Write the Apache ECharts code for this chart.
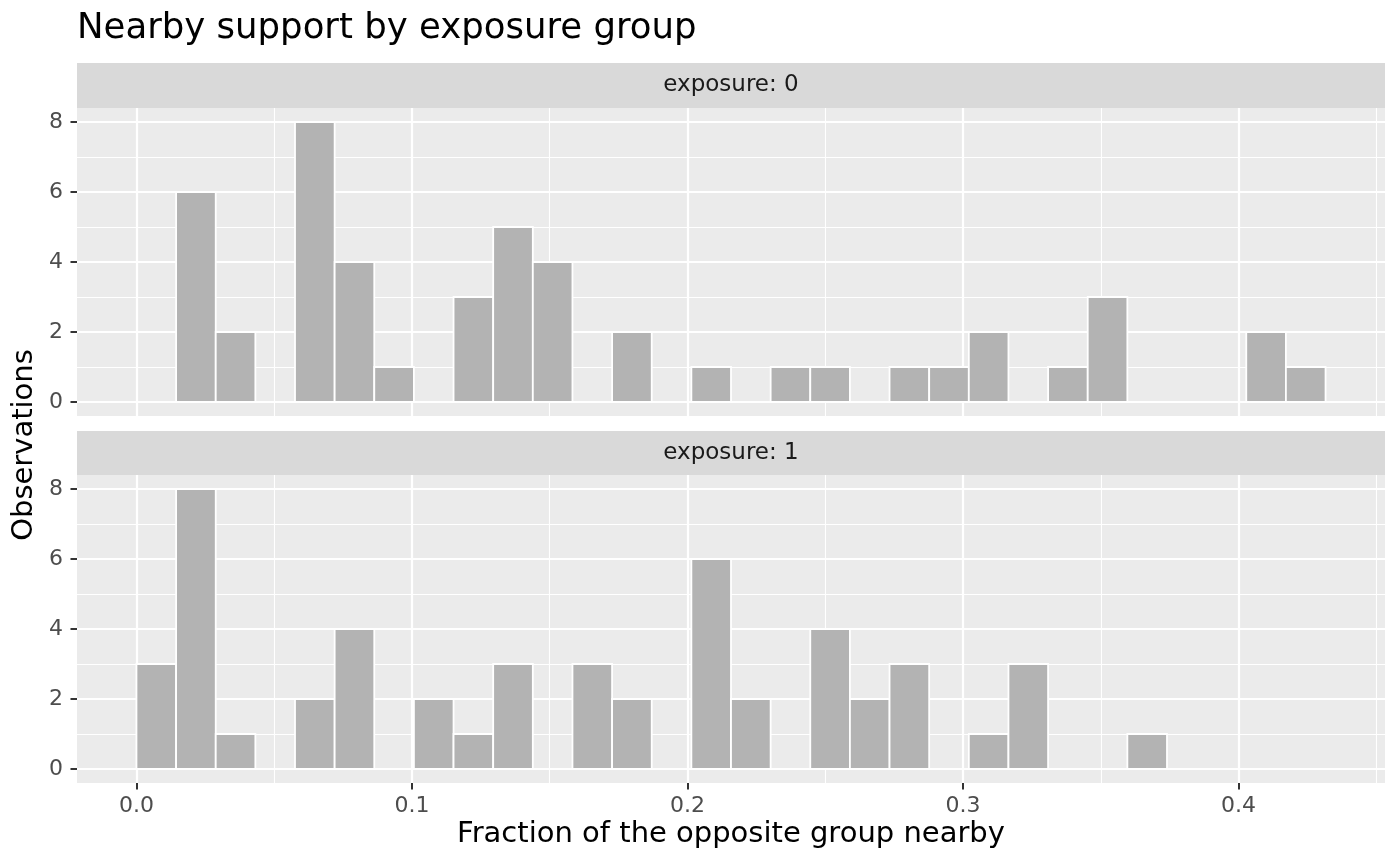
<!DOCTYPE html>
<html>
<head>
<meta charset="utf-8">
<script src="https://cdn.jsdelivr.net/npm/echarts@6/dist/echarts.min.js"></script>
<style>
html,body{margin:0;padding:0;background:#fff;}
#chart{width:1400px;height:866px;}
</style>
</head>
<body>
<div id="chart"></div>
<script>
// ---- data ----
const titleText = 'Nearby support by exposure group';
const xTitle = 'Fraction of the opposite group nearby';
const yTitle = 'Observations';
const panelLabels = ['exposure: 0', 'exposure: 1'];
const binWidth = 0.014386;
const binCount = 30;
// counts per bin (bin i covers [i*binWidth, (i+1)*binWidth])
const countsExposure0 = [0,6,2,0,8,4,1,0,3,5,4,0,2,0,1,0,1,1,0,1,1,2,0,1,3,0,0,0,2,1];
const countsExposure1 = [3,8,1,0,2,4,0,2,1,3,0,3,2,0,6,2,0,4,2,3,0,1,3,0,0,1,0,0,0,0];
const xMajorTicks = [0, 0.1, 0.2, 0.3, 0.4];
const xMinorTicks = [0.05, 0.15, 0.25, 0.35, 0.45];
const yMajorTicks = [0, 2, 4, 6, 8];
const yMinorTicks = [1, 3, 5, 7];
const xRange = [-0.02158, 0.45316];
const yRange = [-0.4, 8.4];

function binsFrom(counts) {
  const out = [];
  counts.forEach((c, i) => {
    if (c > 0) out.push([i * binWidth, (i + 1) * binWidth, c]);
  });
  return out;
}

const FONT = 'DejaVu Sans';
const L = 77, R = 15;
const panels = [{top: 108, height: 308, strip: 63}, {top: 475, height: 308, strip: 431}];

const grids = panels.map(p => ({
  left: L, right: R, top: p.top, height: p.height,
  show: true, backgroundColor: '#EBEBEB', borderWidth: 0, containLabel: false
}));

const xAxes = [];
const yAxes = [];
panels.forEach((p, gi) => {
  const isBottom = gi === panels.length - 1;
  // major x
  xAxes.push({
    type: 'value', gridIndex: gi, min: xRange[0], max: xRange[1], position: 'bottom',
    axisLine: {show: false, onZero: false},
    axisTick: {show: isBottom, customValues: xMajorTicks, length: 6.5, lineStyle: {color: '#333333', width: 2}},
    axisLabel: {show: isBottom, customValues: xMajorTicks, margin: 12, color: '#4D4D4D', fontSize: 22, fontFamily: FONT,
      formatter: v => v.toFixed(1)},
    splitLine: {show: true, lineStyle: {color: '#FFFFFF', width: 2.2}}
  });
  // minor x
  xAxes.push({
    type: 'value', gridIndex: gi, min: xRange[0], max: xRange[1], position: 'bottom',
    axisLine: {show: false, onZero: false},
    axisTick: {show: false, customValues: xMinorTicks},
    axisLabel: {show: false, customValues: xMinorTicks},
    splitLine: {show: true, lineStyle: {color: '#FFFFFF', width: 1.1}}
  });
  yAxes.push({
    type: 'value', gridIndex: gi, min: yRange[0], max: yRange[1], position: 'left',
    axisLine: {show: false, onZero: false},
    axisTick: {show: true, customValues: yMajorTicks, length: 6.5, lineStyle: {color: '#333333', width: 2}},
    axisLabel: {show: true, customValues: yMajorTicks, margin: 14, color: '#4D4D4D', fontSize: 22, fontFamily: FONT},
    splitLine: {show: true, lineStyle: {color: '#FFFFFF', width: 2.2}}
  });
  yAxes.push({
    type: 'value', gridIndex: gi, min: yRange[0], max: yRange[1], position: 'left',
    axisLine: {show: false, onZero: false},
    axisTick: {show: false, customValues: yMinorTicks},
    axisLabel: {show: false, customValues: yMinorTicks},
    splitLine: {show: true, lineStyle: {color: '#FFFFFF', width: 1.1}}
  });
});

function renderBar(params, api) {
  const p0 = api.coord([api.value(0), api.value(2)]);
  const p1 = api.coord([api.value(1), 0]);
  return {
    type: 'rect',
    shape: {x: p0[0], y: p0[1], width: p1[0] - p0[0], height: p1[1] - p0[1]},
    style: {fill: '#B3B3B3', stroke: '#FFFFFF', lineWidth: 1.8}
  };
}

const series = [countsExposure0, countsExposure1].map((counts, gi) => ({
  type: 'custom',
  xAxisIndex: gi * 2, yAxisIndex: gi * 2,
  renderItem: renderBar,
  encode: {x: [0, 1], y: 2},
  data: binsFrom(counts),
  z: 5,
  silent: true
}));

const graphics = [];
panels.forEach((p, gi) => {
  graphics.push({
    type: 'rect', left: L, top: p.strip, z: 1,
    shape: {x: 0, y: 0, width: 1400 - L - R, height: p.top - p.strip},
    style: {fill: '#D9D9D9'}
  });
  graphics.push({
    type: 'text', z: 2,
    x: L + (1400 - L - R) / 2, y: (p.strip + p.top) / 2,
    style: {text: panelLabels[gi], fill: '#1A1A1A', fontSize: 23, fontFamily: FONT, align: 'center', verticalAlign: 'middle'}
  });
});
graphics.push({
  type: 'text', x: L, y: 29,
  style: {text: titleText, fill: '#000000', fontSize: 35.5, fontFamily: FONT, align: 'left', verticalAlign: 'middle'}
});
graphics.push({
  type: 'text', x: L + (1400 - L - R) / 2, y: 834,
  style: {text: xTitle, fill: '#000000', fontSize: 29, fontFamily: FONT, align: 'center', verticalAlign: 'middle'}
});
graphics.push({
  type: 'text', x: 24, y: 445, rotation: Math.PI / 2,
  style: {text: yTitle, fill: '#000000', fontSize: 29, fontFamily: FONT, align: 'center', verticalAlign: 'middle'}
});

const chart = echarts.init(document.getElementById('chart'), null, {renderer: 'canvas'});
chart.setOption({
  animation: false,
  backgroundColor: '#FFFFFF',
  grid: grids,
  xAxis: xAxes,
  yAxis: yAxes,
  series: series,
  graphic: graphics
});
</script>
</body>
</html>
